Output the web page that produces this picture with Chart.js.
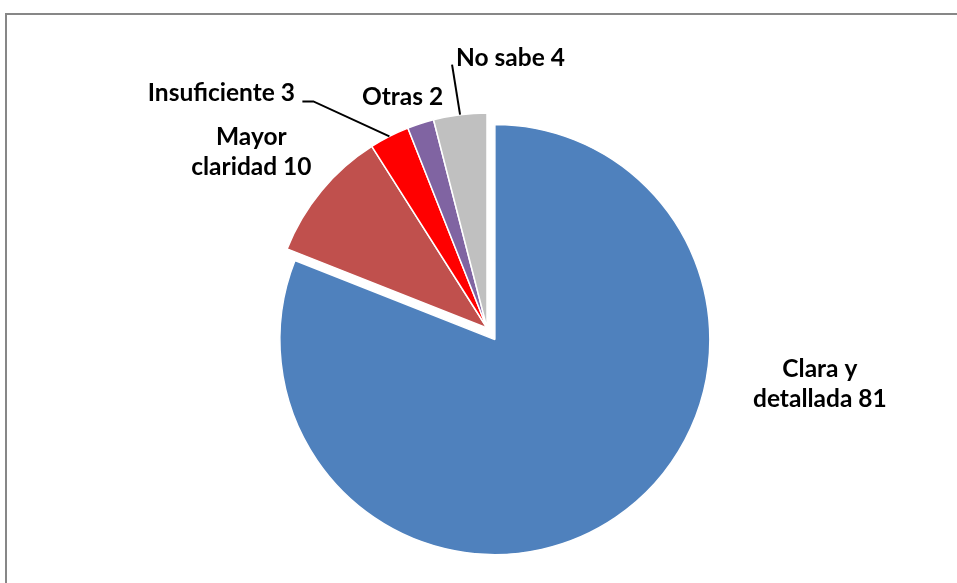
<!DOCTYPE html>
<html>
<head>
<meta charset="utf-8">
<script src="https://cdn.jsdelivr.net/npm/chart.js@4/dist/chart.umd.min.js"></script>
<style>
  html, body { margin: 0; padding: 0; background: #ffffff; }
  canvas { display: block; }
</style>
</head>
<body>
<canvas id="pie" width="957" height="583"></canvas>
<script>
// Respuestas por categoría (porcentaje)
const categories = ['Clara y detallada', 'Mayor claridad', 'Insuficiente', 'Otras', 'No sabe'];
const values = [81, 10, 3, 2, 4];
const labelLines = [
  ['Clara y', 'detallada 81'],
  ['Mayor', 'claridad 10'],
  ['Insuficiente 3'],
  ['Otras 2'],
  ['No sabe 4']
];
const sliceColors = ['#4F81BD', '#C0504D', '#FF0000', '#8064A2', '#C0C0C0'];
// Pixels each slice is pulled out along its middle angle (radius kept unchanged)
const explode = [14, 0, 0, 0, 0];

// Where each label sits, relative to the outer midpoint of its slice,
// plus an optional leader line (elbow point, relative as well).
const labelLayout = [
  { dx: 212, dy: -122, align: 'center' },
  { dx: -70, dy: -39, align: 'center' },
  { dx: -168, dy: -43, align: 'center', leader: { elbow: [-76, -35], end: [-87, -35] } },
  { dx: -18, dy: -26, align: 'center' },
  { dx: -4, dy: -57, align: 'left', leader: { elbow: [-8, -50] } }
];

const FONT = 'bold 24.5px Lato, "Open Sans", sans-serif';
const LINE_H = 30;

const frame = {
  id: 'frame',
  beforeDraw(chart) {
    const ctx = chart.ctx;
    ctx.save();
    ctx.fillStyle = '#ffffff';
    ctx.fillRect(0, 0, chart.width, chart.height);
    ctx.strokeStyle = '#878787';
    ctx.lineWidth = 2;
    ctx.strokeRect(6, 14, chart.width + 10, chart.height + 10);
    ctx.restore();
  }
};

// Pulls slices out without growing them (the built-in offset also enlarges wide slices)
const explodeSlices = {
  id: 'explodeSlices',
  beforeDatasetsDraw(chart) {
    chart.getDatasetMeta(0).data.forEach((arc, i) => {
      const d = explode[i] || 0;
      if (!d || arc._exploded) return;
      const baseDraw = arc.draw;
      arc.draw = function (ctx, area) {
        const mid = (this.startAngle + this.endAngle) / 2;
        ctx.save();
        ctx.translate(Math.cos(mid) * d, Math.sin(mid) * d);
        baseDraw.call(this, ctx, area);
        ctx.restore();
      };
      arc._exploded = true;
    });
  }
};

const sliceLabels = {
  id: 'sliceLabels',
  afterDatasetsDraw(chart) {
    const ctx = chart.ctx;
    const arcs = chart.getDatasetMeta(0).data;
    ctx.save();
    ctx.font = FONT;
    ctx.fillStyle = '#000000';
    ctx.strokeStyle = '#000000';
    ctx.lineWidth = 2;
    ctx.textBaseline = 'middle';
    arcs.forEach((arc, i) => {
      const p = arc.getProps(['x', 'y', 'startAngle', 'endAngle', 'outerRadius'], true);
      const mid = (p.startAngle + p.endAngle) / 2;
      const ox = p.x + Math.cos(mid) * p.outerRadius;
      const oy = p.y + Math.sin(mid) * p.outerRadius;
      const L = labelLayout[i];
      const lx = ox + L.dx;
      const ly = oy + L.dy;
      if (L.leader) {
        ctx.beginPath();
        ctx.moveTo(ox, oy);
        ctx.lineTo(ox + L.leader.elbow[0], oy + L.leader.elbow[1]);
        if (L.leader.end) ctx.lineTo(ox + L.leader.end[0], oy + L.leader.end[1]);
        ctx.stroke();
      }
      ctx.textAlign = L.align;
      const lines = labelLines[i];
      const top = ly - (lines.length - 1) * LINE_H / 2;
      lines.forEach((t, k) => ctx.fillText(t, lx, top + k * LINE_H));
    });
    ctx.restore();
  }
};

new Chart(document.getElementById('pie'), {
  type: 'pie',
  data: {
    labels: categories,
    datasets: [{
      data: values,
      backgroundColor: sliceColors,
      borderColor: '#ffffff',
      borderWidth: 1.5
    }]
  },
  options: {
    responsive: false,
    animation: false,
    radius: 215,
    layout: { padding: { left: 17, right: 0, top: 73, bottom: 0 } },
    plugins: {
      legend: { display: false },
      tooltip: { enabled: false }
    }
  },
  plugins: [frame, explodeSlices, sliceLabels]
});
</script>
</body>
</html>
